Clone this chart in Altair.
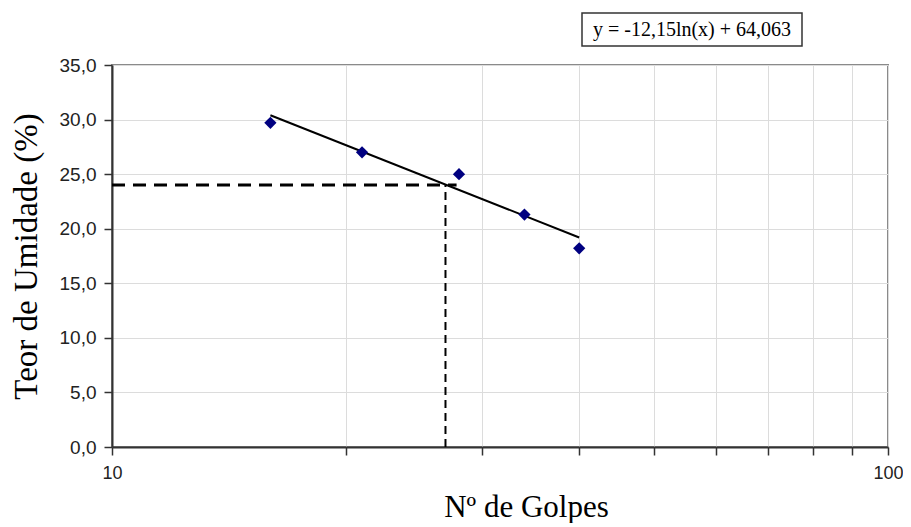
import altair as alt
import pandas as pd

# Data
golpes = [16, 21, 28, 34, 40]
umidade = [29.7, 27.0, 25.0, 21.3, 18.2]

trend_x = [16, 40]
trend_y = [30.4, 19.2]

h_dash_x = [10, 27.8]
h_dash_y = [24.0, 24.0]
v_dash_x = [26.9, 26.9]
v_dash_y = [0.0, 24.0]

x_ticks = [10, 20, 30, 40, 50, 60, 70, 80, 90, 100]
y_ticks = [0, 5, 10, 15, 20, 25, 30, 35]
equation = "y = -12,15ln(x) + 64,063"

pts = pd.DataFrame({"g": golpes, "u": umidade})
trend = pd.DataFrame({"g": trend_x, "u": trend_y})
hd = pd.DataFrame({"g": h_dash_x, "u": h_dash_y})
vd = pd.DataFrame({"g": v_dash_x, "u": v_dash_y})

xscale = alt.Scale(type="log", domain=[10, 100], nice=False)
yscale = alt.Scale(domain=[0, 35], nice=False)

xaxis = alt.Axis(
    values=x_ticks,
    labelExpr="(datum.value == 10 || datum.value == 100) ? datum.value + '' : ''",
    labelFlush=False,
    labelFontSize=18,
    title="Nº de Golpes",
    titleX=414, titleY=69, titleBaseline="alphabetic", titleAlign="center",
    titleFontSize=31,
    labelPadding=9, tickSize=8,
)
yaxis = alt.Axis(
    values=y_ticks,
    labelExpr="replace(format(datum.value, '.1f'), '.', ',')",
    title="Teor de Umidade (%)",
    titleX=-76, titleY=191, titleAngle=-90, titleBaseline="alphabetic", titleAlign="center",
    titleFontSize=33,
    labelPadding=8, tickSize=8,
)

x = alt.X("g:Q", scale=xscale, axis=xaxis)
y = alt.Y("u:Q", scale=yscale, axis=yaxis)
xn = alt.X("g:Q", scale=xscale)
yn = alt.Y("u:Q", scale=yscale)

points = alt.Chart(pts).mark_point(
    shape="diamond", filled=True, color="#000080", size=150, opacity=1
).encode(x=x, y=y)

trend_line = alt.Chart(trend).mark_line(color="black", strokeWidth=2).encode(x=xn, y=yn)

h_line = alt.Chart(hd).mark_line(color="black", strokeWidth=3, strokeDash=[13, 8]).encode(x=xn, y=yn)
v_line = alt.Chart(vd).mark_line(color="black", strokeWidth=2, strokeDash=[8, 5]).encode(x=xn, y=yn)

one = pd.DataFrame({"t": [equation]})
box = alt.Chart(one).mark_rect(fill="white", stroke="#333333", strokeWidth=1.5).encode(
    x=alt.value(470), x2=alt.value(690), y=alt.value(-52), y2=alt.value(-19)
)
eq_text = alt.Chart(one).mark_text(
    font="Liberation Serif", fontSize=20, color="black", align="center", baseline="middle"
).encode(x=alt.value(580), y=alt.value(-35), text="t:N")

chart = alt.layer(h_line, v_line, trend_line, points, box, eq_text).properties(
    width=776, height=382,
    autosize=alt.AutoSizeParams(type="none"),
    padding={"left": 104, "top": 57, "right": 15, "bottom": 76},
).configure_view(
    stroke="#8a8a8a", strokeWidth=2
).configure_axis(
    labelFont="Liberation Sans", labelFontSize=19, labelColor="#222222",
    titleFont="Liberation Serif", titleFontWeight="normal", titleColor="black",
    domainColor="#333333", domainWidth=2, tickColor="#333333", tickWidth=1.5,
    gridColor="#dcdcdc", gridWidth=1,
).configure_axisY(labelAlign="right")

chart.save("out.html", embed_options={"renderer": "svg", "actions": False})
